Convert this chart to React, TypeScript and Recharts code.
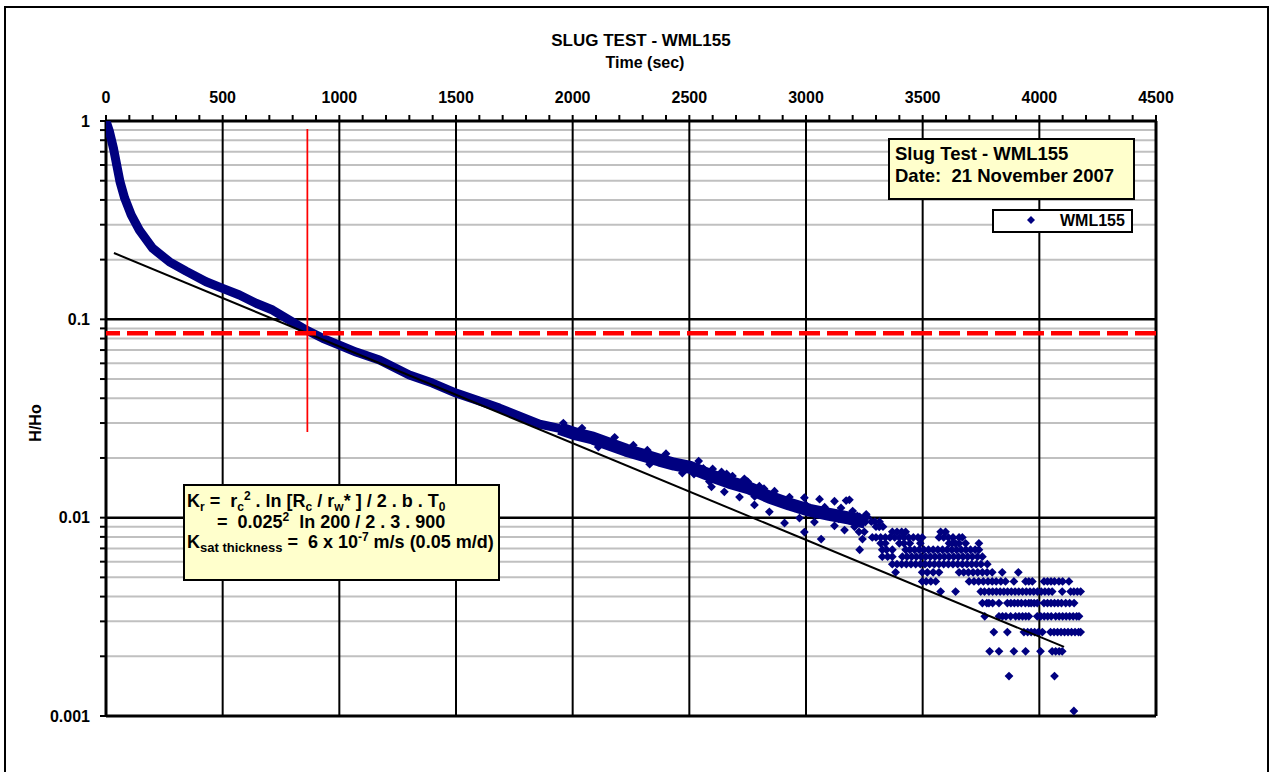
import React from 'react';
import { ScatterChart, Scatter, XAxis, YAxis, ReferenceLine } from 'recharts';

const NAVY = '#000080';
const FONT = '"Liberation Sans", Arial, sans-serif';

// axis ticks
const timeTicks = [
  0, 100, 200, 300, 400, 500, 600, 700, 800, 900, 1000, 1100, 1200, 1300, 1400, 1500,
  1600, 1700, 1800, 1900, 2000, 2100, 2200, 2300, 2400, 2500, 2600, 2700, 2800, 2900,
  3000, 3100, 3200, 3300, 3400, 3500, 3600, 3700, 3800, 3900, 4000, 4100, 4200, 4300, 4400, 4500,
];
const timeLabels = [0, 500, 1000, 1500, 2000, 2500, 3000, 3500, 4000, 4500];
const ratioTicks = [
  0.001, 0.002, 0.003, 0.004, 0.005, 0.006, 0.007, 0.008, 0.009,
  0.01, 0.02, 0.03, 0.04, 0.05, 0.06, 0.07, 0.08, 0.09,
  0.1, 0.2, 0.3, 0.4, 0.5, 0.6, 0.7, 0.8, 0.9, 1,
];
const ratioLabels = [0.001, 0.01, 0.1, 1];
const majorTimes = [500, 1000, 1500, 2000, 2500, 3000, 3500, 4000];
const majorRatios = [0.01, 0.1];

// WML155 recovery, dense early part
const earlyTime = [0, 15, 32, 46, 60, 80, 108, 143, 200, 272, 343, 429, 500, 572, 643, 714, 786, 858, 929, 1000, 1072, 1172, 1300, 1399, 1500, 1600, 1686, 1772, 1858, 1943];
const earlyRatio = [1.0, 0.883, 0.728, 0.6, 0.494, 0.408, 0.336, 0.282, 0.228, 0.195, 0.175, 0.1547, 0.1433, 0.1326, 0.1205, 0.1114, 0.0992, 0.0883, 0.0802, 0.0741, 0.0684, 0.0623, 0.0524, 0.0477, 0.0425, 0.0387, 0.0357, 0.0325, 0.0296, 0.0282];

// later part, where the band gets wider
const lateTime = [1943, 2015, 2086, 2157, 2229, 2299, 2372, 2436, 2500, 2586, 2671, 2757, 2843, 2929, 3015, 3100, 3186, 3254];
const lateRatio = [0.0282, 0.0264, 0.0252, 0.0235, 0.0219, 0.0207, 0.0195, 0.0186, 0.018, 0.0164, 0.0151, 0.0141, 0.0127, 0.0117, 0.0109, 0.0104, 0.00995, 0.0095];

// scattered readings around the band
const looseTime = [
  1960, 2040, 2110, 2180, 2260, 2320, 2330, 2400, 2470, 2540, 2586, 2600, 2638, 2685, 2736, 2800,
  2865, 2929, 2993, 3058, 3122, 3186, 2595, 2650, 2715, 2779, 2843, 2908, 2972, 2993, 3036, 3065,
  3122, 3165, 3208, 3242, 3172, 3200, 3258, 3314, 2520, 2560, 2620, 2660, 2700, 2750, 2780, 2820,
  2880, 2950, 3000, 3040, 3080, 3140, 3150, 3220,
];
const looseRatio = [
  0.03, 0.0283, 0.0227, 0.0254, 0.0232, 0.0219, 0.0186, 0.021, 0.0168, 0.0193, 0.0152, 0.0176, 0.017, 0.0162, 0.0157, 0.0144,
  0.0136, 0.0127, 0.0126, 0.0124, 0.0121, 0.0123, 0.0143, 0.0135, 0.0127, 0.0116, 0.0107, 0.0094, 0.00995, 0.00846, 0.0095, 0.0078,
  0.0091, 0.00866, 0.009, 0.0078, 0.0122, 0.0108, 0.0104, 0.009, 0.0166, 0.0177, 0.0158, 0.0166, 0.0145, 0.0152, 0.0128, 0.014,
  0.0121, 0.0112, 0.0116, 0.0105, 0.0113, 0.0099, 0.0112, 0.0102,
];

// tail: logger resolution gives fixed levels
const tailLevels = [0.0101, 0.00954, 0.00901, 0.00848, 0.00795, 0.00742, 0.00689, 0.00636, 0.00583, 0.0053, 0.00477, 0.00424, 0.00371, 0.00318, 0.00265, 0.00212, 0.00159, 0.00106];
const tailTimes = [
  [3230, 3262],
  [3245, 3280, 3295, 3315],
  [3300, 3330],
  [3227, 3250, 3370, 3390, 3410, 3427, 3577, 3598],
  [3284, 3300, 3320, 3340, 3360, 3380, 3400, 3420, 3440, 3460, 3480, 3498, 3570, 3590, 3610, 3630, 3656, 3670],
  [3320, 3340, 3400, 3420, 3445, 3490, 3613, 3627, 3640, 3656, 3684, 3741],
  [3230, 3327, 3345, 3370, 3427, 3445, 3465, 3485, 3505, 3525, 3545, 3565, 3585, 3605, 3625, 3645, 3665, 3685, 3705, 3725, 3741],
  [3327, 3350, 3370, 3413, 3433, 3453, 3473, 3493, 3513, 3533, 3553, 3573, 3593, 3613, 3633, 3653, 3673, 3693, 3713, 3735, 3756],
  [3370, 3390, 3410, 3430, 3450, 3470, 3490, 3510, 3530, 3550, 3570, 3590, 3610, 3630, 3650, 3670, 3690, 3710, 3730, 3750, 3777],
  [3384, 3498, 3520, 3545, 3570, 3656, 3676, 3696, 3716, 3736, 3756, 3776, 3798, 3841, 3910],
  [3498, 3515, 3535, 3556, 3699, 3720, 3740, 3760, 3780, 3798, 3815, 3835, 3855, 3891, 3941, 3955, 3970, 4020, 4035, 4050, 4065, 4084, 4100, 4127],
  [3577, 3641, 3749, 3765, 3784, 3800, 3816, 3832, 3848, 3864, 3880, 3896, 3912, 3928, 3944, 3960, 3976, 3992, 4008, 4024, 4040, 4055, 4098, 4134, 4148, 4163, 4177],
  [3756, 3775, 3784, 3800, 3827, 3863, 3878, 3893, 3908, 3923, 3940, 3955, 3965, 3978, 3991, 4020, 4035, 4050, 4065, 4080, 4095, 4113, 4130, 4149],
  [3766, 3827, 3842, 3857, 3877, 3898, 3913, 3928, 3942, 3955, 3991, 4006, 4021, 4036, 4051, 4070, 4085, 4100, 4115, 4130, 4145, 4160, 4170],
  [3805, 3863, 3934, 3950, 3965, 3980, 3996, 4013, 4048, 4063, 4078, 4093, 4108, 4123, 4138, 4153, 4168, 4177],
  [3787, 3827, 3891, 3941, 4005, 4055, 4070, 4085, 4098],
  [3870, 4065],
  [4148],
];

// straight-line fit and T0 picks
const fitTime = [34, 4106];
const fitRatio = [0.216, 0.00223];
const t0Time = 863;
const t0Span = [0.91, 0.027];
const t0Ratio = 0.085;

const toPoints = (ts: number[], hs: number[]) => ts.map((t, i) => ({ t, h: hs[i] }));

const earlyData = toPoints(earlyTime, earlyRatio);
const lateData = toPoints(lateTime, lateRatio);
const looseData = toPoints(looseTime, looseRatio);
const tailData = tailLevels.flatMap((h, i) => tailTimes[i].map((t) => ({ t, h })));
const fitData = toPoints(fitTime, fitRatio);
const minorRatios = ratioTicks.filter((v) => !ratioLabels.includes(v));

const Diamond = (props: any) => {
  const { cx, cy } = props;
  if (cx == null || cy == null) return <g />;
  const r = 4.4;
  return <path d={`M${cx},${cy - r}L${cx + r},${cy}L${cx},${cy + r}L${cx - r},${cy}Z`} fill={NAVY} />;
};
const NoMark = () => <g />;

const Sub = ({ children, size = 12 }: any) => (
  <span style={{ fontSize: size, position: 'relative', top: 4, lineHeight: 0 }}>{children}</span>
);
const Sup = ({ children }: any) => (
  <span style={{ fontSize: 12, position: 'relative', top: -7, lineHeight: 0 }}>{children}</span>
);

const tickStyle = { fill: '#000', fontSize: 16, fontWeight: 'bold', fontFamily: FONT };

export default function App() {
  return (
    <div style={{ position: 'fixed', left: 0, top: 0, width: 1271, height: 772, overflow: 'hidden', background: '#fff', fontFamily: FONT }}>
      <div style={{ position: 'absolute', left: 4, top: 6, width: 1265, height: 820, boxSizing: 'border-box', border: '2px solid #000' }} />

      <div style={{ position: 'absolute', left: 0, top: 0 }}>
        <ScatterChart width={1271} height={772} margin={{ top: 91, right: 115, bottom: 56, left: 46 }}>
          <XAxis
            type="number"
            dataKey="t"
            orientation="top"
            domain={[0, 4500]}
            ticks={timeTicks}
            interval={0}
            height={30}
            allowDataOverflow
            tickFormatter={(v: number) => (timeLabels.includes(v) ? String(v) : '')}
            tick={tickStyle}
            tickSize={6}
            tickMargin={12}
            axisLine={{ stroke: '#000', strokeWidth: 3 }}
            tickLine={{ stroke: '#000', strokeWidth: 2 }}
          />
          <YAxis
            type="number"
            dataKey="h"
            scale="log"
            domain={[0.001, 1]}
            ticks={ratioTicks}
            interval={0}
            width={60}
            allowDataOverflow
            tickFormatter={(v: number) => (ratioLabels.includes(v) ? String(v) : '')}
            tick={tickStyle}
            tickSize={6}
            tickMargin={10}
            axisLine={{ stroke: '#000', strokeWidth: 3 }}
            tickLine={{ stroke: '#000', strokeWidth: 2 }}
          />

          {minorRatios.map((v) => (
            <ReferenceLine key={`m${v}`} y={v} stroke="#c0c0c0" strokeWidth={2} zIndex={-60} />
          ))}
          {majorRatios.map((v) => (
            <ReferenceLine key={`M${v}`} y={v} stroke="#000" strokeWidth={2.5} zIndex={-50} />
          ))}
          {majorTimes.map((v) => (
            <ReferenceLine key={`T${v}`} x={v} stroke="#000" strokeWidth={2} zIndex={-50} />
          ))}
          <ReferenceLine x={4500} stroke="#000" strokeWidth={3} zIndex={-50} />
          <ReferenceLine y={0.001} stroke="#000" strokeWidth={3} zIndex={-50} />

          <Scatter
            name="WML155"
            data={earlyData}
            line={{ stroke: NAVY, strokeWidth: 9, strokeLinejoin: 'round' }}
            shape={Diamond}
            isAnimationActive={false}
          />
          <Scatter
            data={lateData}
            line={{ stroke: NAVY, strokeWidth: 13, strokeLinejoin: 'round' }}
            shape={Diamond}
            isAnimationActive={false}
          />
          <Scatter data={looseData} shape={Diamond} isAnimationActive={false} />
          <Scatter data={tailData} shape={Diamond} isAnimationActive={false} />
          <Scatter
            data={fitData}
            line={{ stroke: '#000', strokeWidth: 2 }}
            shape={NoMark}
            isAnimationActive={false}
            zIndex={620}
          />

          <ReferenceLine
            y={t0Ratio}
            stroke="#ff0000"
            strokeWidth={4.5}
            strokeDasharray="21 7"
            strokeDashoffset={7}
            zIndex={650}
          />
          <ReferenceLine
            segment={[{ x: t0Time, y: t0Span[0] }, { x: t0Time, y: t0Span[1] }]}
            stroke="#ff0000"
            strokeWidth={1.75}
            zIndex={650}
          />
        </ScatterChart>
      </div>

      <svg width={1271} height={772} style={{ position: 'absolute', left: 0, top: 0, pointerEvents: 'none' }}>
        <text x={641} y={46} textAnchor="middle" fontSize={17} fontWeight="bold" fontFamily={FONT}>SLUG TEST - WML155</text>
        <text x={645} y={68} textAnchor="middle" fontSize={16} fontWeight="bold" fontFamily={FONT}>Time (sec)</text>
        <text transform="translate(41,423) rotate(-90)" textAnchor="middle" fontSize={16} fontWeight="bold" fontFamily={FONT}>H/Ho</text>
      </svg>

      <div
        style={{
          position: 'absolute', left: 888, top: 138, width: 247, height: 62, boxSizing: 'border-box',
          border: '2px solid #000', background: '#ffffcc', fontSize: 18.5, fontWeight: 'bold',
          lineHeight: '22px', padding: '3px 0 0 5px', whiteSpace: 'pre',
        }}
      >
        {'Slug Test - WML155\nDate:  21 November 2007'}
      </div>

      <div
        style={{
          position: 'absolute', left: 992, top: 209, width: 141, height: 24, boxSizing: 'border-box',
          border: '2px solid #000', background: '#fff',
        }}
      >
        <svg width={10} height={10} style={{ position: 'absolute', left: 32, top: 4 }}>
          <path d="M5,1L9,5L5,9L1,5Z" fill={NAVY} />
        </svg>
        <span style={{ position: 'absolute', left: 66, top: 1, fontSize: 16, fontWeight: 'bold', lineHeight: '18px' }}>WML155</span>
      </div>

      <div
        style={{
          position: 'absolute', left: 183, top: 484, width: 317, height: 97, boxSizing: 'border-box',
          border: '2px solid #000', background: '#ffffcc', fontSize: 18, fontWeight: 'bold',
          lineHeight: '20.5px', padding: '5px 0 0 2px', whiteSpace: 'nowrap',
        }}
      >
        <div>
          K<Sub>r</Sub>{'\u00a0=\u00a0 '}r<Sub>c</Sub><Sup>2</Sup> . ln [R<Sub>c</Sub> / r<Sub>w</Sub>* ] / 2 . b . T<Sub>0</Sub>
        </div>
        <div style={{ paddingLeft: 30 }}>
          {'=\u00a0 0.025'}<Sup>2</Sup>{'\u00a0 ln 200 / 2 . 3 . 900'}
        </div>
        <div>
          K<Sub size={13}>sat thickness</Sub>{' =\u00a0 6 x 10'}<Sup>-7</Sup>{'\u00a0m/s (0.05 m/d)'}
        </div>
      </div>
    </div>
  );
}
